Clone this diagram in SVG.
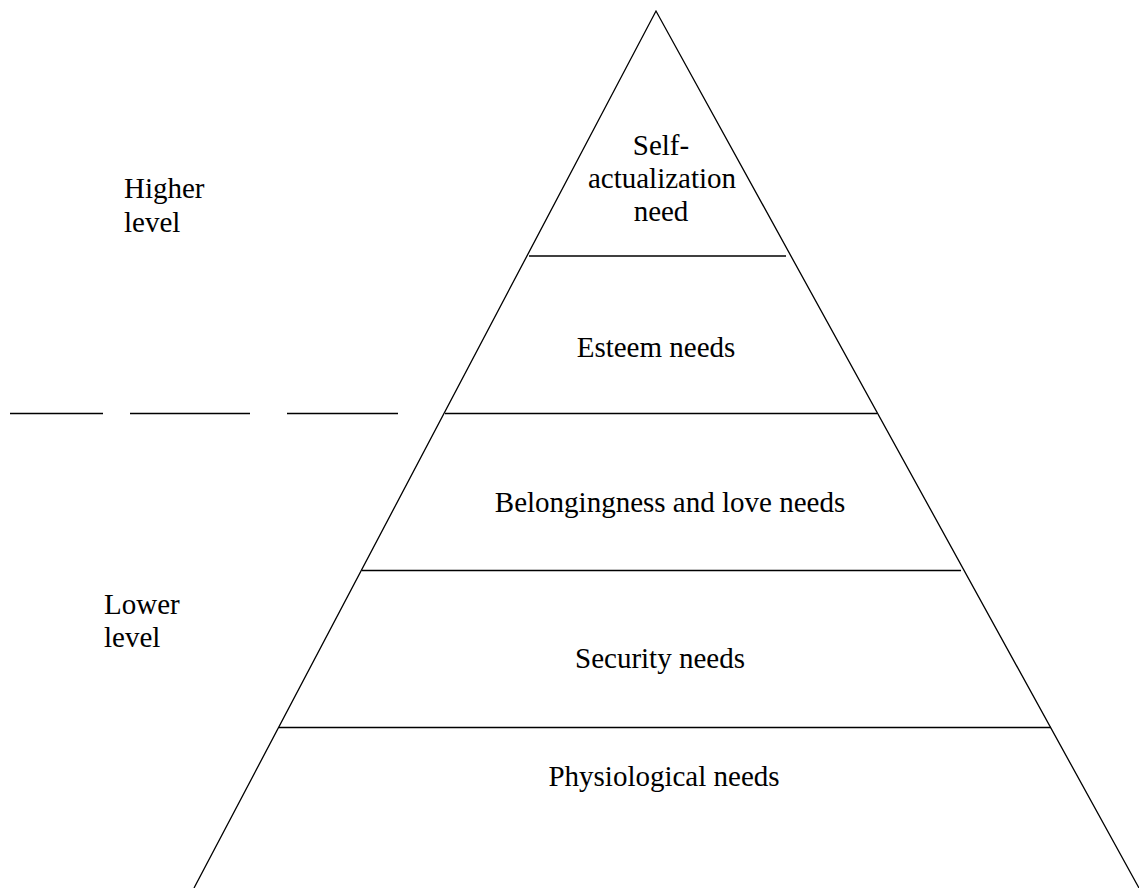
<svg xmlns="http://www.w3.org/2000/svg" width="1139" height="888" viewBox="0 0 1139 888">
<style>
.ln{stroke:#000;stroke-width:1.3;fill:none}
.t{font-family:"Liberation Serif","Times New Roman",serif;font-size:29px;fill:#000}
.m{text-anchor:middle}
</style>
<rect width="1139" height="888" fill="#fff"/>
<g id="pyramid">
<polyline class="ln" points="194,888 656,11 1139,888"/>
</g>
<g id="connectors">
<line class="ln" x1="529" y1="256" x2="786" y2="256"/>
<line class="ln" x1="445" y1="413.5" x2="877" y2="413.5"/>
<line class="ln" x1="362" y1="570.5" x2="961" y2="570.5"/>
<line class="ln" x1="279" y1="727.5" x2="1051" y2="727.5"/>
<line class="ln" x1="10" y1="413.5" x2="103" y2="413.5"/>
<line class="ln" x1="130" y1="413.5" x2="250" y2="413.5"/>
<line class="ln" x1="287" y1="413.5" x2="398" y2="413.5"/>
</g>
<g id="self-actualization">
<text class="t m" x="661" y="155">Self-</text>
<text class="t m" x="662" y="188">actualization</text>
<text class="t m" x="661" y="221">need</text>
</g>
<g id="esteem"><text class="t m" x="656" y="357">Esteem needs</text></g>
<g id="belonging"><text class="t m" x="670" y="512">Belongingness and love needs</text></g>
<g id="security"><text class="t m" x="660" y="668">Security needs</text></g>
<g id="physiological"><text class="t m" x="664" y="786">Physiological needs</text></g>
<g id="higher"><text class="t" x="124" y="198">Higher</text><text class="t" x="124" y="232">level</text></g>
<g id="lower"><text class="t" x="104" y="614">Lower</text><text class="t" x="104" y="647">level</text></g>
</svg>
